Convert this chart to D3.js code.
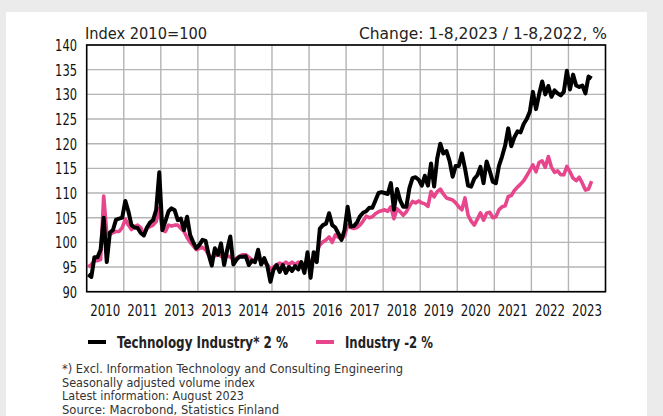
<!DOCTYPE html>
<html>
<head>
<meta charset="utf-8">
<script src="https://cdn.jsdelivr.net/npm/d3@7"></script>
<style>
html,body{margin:0;padding:0;background:#ebebeb;}
svg{display:block;}
</style>
</head>
<body>
<svg id="chart" width="663" height="416"></svg>
<script>
// ---- data (monthly, Jan 2010 – Aug 2023) ----
const yearLabels = ["2010","2011","2013","2013","2014","2015","2016","2017","2018","2019","2020","2021","2022","2023"];
const yTicks = [90,95,100,105,110,115,120,125,130,135,140];

const techIndustry = [
  // 2010
  93.5, 93, 97, 97, 98.5, 105, 96, 102, 102.5, 104.6, 104.8, 105,
  // 2011
  108.4, 106.3, 103.5, 103, 102.9, 101.9, 101.4, 103, 104, 104.5, 106.6, 114.2,
  // 2012
  102.5, 104.3, 106.3, 106.9, 106.5, 104.5, 104.8, 102.5, 105.2, 101.5, 100, 98.8,
  // 2013
  99.5, 100.5, 100.3, 97.5, 95.3, 98.8, 97.5, 99.8, 95.4, 98.5, 101.2, 95.5,
  // 2014
  96.5, 97.1, 97.1, 97.2, 95.4, 96.3, 96, 98.5, 95.5, 96.8, 95.2, 92,
  // 2015
  94.5, 95.4, 94, 95.4, 93.8, 95, 94.2, 95.2, 94.5, 96, 93.8, 98,
  // 2016
  92.8, 98, 96, 102.8, 103.5, 103.8, 105.9, 103.5, 103, 101.8, 100.5, 102.5,
  // 2017
  107.2, 103.2, 103.3, 104, 105.3, 106, 106.3, 107, 107, 108.5, 110, 110.2,
  // 2018
  110, 109.8, 112, 106.6, 110.8, 108.5, 107.2, 107.2, 111, 113, 113.2, 112.7,
  // 2019
  111.5, 113.5, 111.5, 116, 111.3, 117, 120, 118, 118.5, 116.5, 113.3, 115.5,
  // 2020
  115.5, 118, 115, 111.5, 111.3, 112.9, 113.6, 115.3, 112, 116.4, 114.5, 112.3,
  // 2021
  112, 115.5, 117.4, 119.6, 123.1, 119.5, 121.3, 122.5, 122.3, 124, 125, 126.5,
  // 2022
  130.5, 127, 130, 132.6, 130, 131.7, 129.5, 130.8, 130.2, 129.8, 130.5, 134.8,
  // 2023
  131, 134, 131.8, 131.5, 131.8, 130.2, 133.6, 133.2
];

const industry = [
  // 2010
  95, 95.5, 96.3, 96.3, 96.5, 109.4, 101.8, 101.6, 102, 102.2, 102.2, 103,
  // 2011
  104.7, 103.5, 102.6, 103.2, 103.5, 103, 101.5, 102.8, 103.2, 103.5, 104.2, 106.9,
  // 2012
  102.5, 102.2, 103.5, 103.3, 103.5, 103.5, 102.8, 102.2, 101, 100, 99.3, 98.5,
  // 2013
  98.8, 99, 98.5, 97.5, 97, 97.3, 97.5, 97.2, 97, 97.3, 97, 96.5,
  // 2014
  96.8, 97.2, 97.5, 97.5, 97, 96.5, 96.3, 96.8, 96.2, 96, 95.5, 94.5,
  // 2015
  95, 95.5, 95.8, 95.5, 96, 95.5, 96, 95.5, 96, 95.5, 95.6, 96.5,
  // 2016
  96, 97, 98, 99.5, 100.1, 100.5, 101.1, 100, 101.5, 101, 100.7, 101.3,
  // 2017
  103.5, 103, 102.8, 103, 103.5, 104.3, 105.3, 105, 105.2, 105.8, 106.2, 106.4,
  // 2018
  106.6, 106.3, 107.2, 104.8, 106.8, 106.2, 105.5, 106.2, 107.3, 108.3, 108, 108.4,
  // 2019
  108, 107.8, 107.3, 110.3, 109.2, 110.3, 110.8, 109.8, 109, 108.8, 108.6, 108,
  // 2020
  107.2, 106.6, 109, 105.5, 104.3, 103.5, 104.7, 106, 104.5, 105.9, 106.1, 105,
  // 2021
  105.2, 106.6, 107.2, 107.4, 109.3, 109.5, 110.5, 111.2, 111.8, 112.5, 113.5, 114.6,
  // 2022
  115.7, 114.3, 116.2, 116.5, 115.2, 117.4, 115.2, 114.2, 114.5, 113.7, 113.7, 115.4,
  // 2023
  114.3, 113, 112.5, 113.2, 112, 110.6, 110.8, 112.4
];

const titleLeft = "Index 2010=100";
const titleRight = "Change: 1-8,2023 / 1-8,2022, %";
const legendLabels = ["Technology Industry* 2 %", "Industry -2 %"];
const seriesColors = ["#000000", "#e8468c"];
const footnotes = [
  "*) Excl. Information Technology and Consulting Engineering",
  "Seasonally adjusted volume index",
  "Latest information: August 2023",
  "Source: Macrobond, Statistics Finland"
];

(function(){
const legendWidths = [171, 88];
const footWidths = [341, 193, 182, 217];

const svg = d3.select("#chart");
const narrow = "'Liberation Sans Narrow','DejaVu Sans Condensed','Roboto Condensed',sans-serif";

// background panel
svg.append("rect").attr("x",0).attr("y",0).attr("width",663).attr("height",416).attr("fill","#ebebeb");
svg.append("rect").attr("x",6).attr("y",12).attr("width",641).attr("height",410).attr("fill","#ffffff");

const pL = 86.7, pR = 605.5, pT = 45, pB = 291.7;
const nYears = yearLabels.length;
const x = d3.scaleLinear().domain([0, nYears*12]).range([pL, pR]);
const y = d3.scaleLinear().domain([90, 140]).range([pB, pT]);

// gridlines
const g = svg.append("g");
g.selectAll("line.h").data(yTicks).join("line")
  .attr("x1", pL).attr("x2", pR)
  .attr("y1", d => y(d)).attr("y2", d => y(d))
  .attr("stroke", "#b4b4b4").attr("stroke-width", 1.4);
g.selectAll("line.v").data(d3.range(1, nYears)).join("line")
  .attr("x1", d => x(d*12)).attr("x2", d => x(d*12))
  .attr("y1", pT).attr("y2", pB)
  .attr("stroke", "#b4b4b4").attr("stroke-width", 1.4);
g.append("line")
  .attr("x1", x((nYears-1)*12)).attr("x2", x((nYears-1)*12))
  .attr("y1", pT-7).attr("y2", pT)
  .attr("stroke", "#9a9a9a").attr("stroke-width", 1.2);

// series lines
const line = d3.line().x((d,i) => x(i + 0.5)).y(d => y(d));
svg.append("path").datum(industry).attr("d", line)
  .attr("fill","none").attr("stroke", seriesColors[1])
  .attr("stroke-width", 3.6).attr("stroke-linejoin","round");
svg.append("path").datum(techIndustry).attr("d", line)
  .attr("fill","none").attr("stroke", seriesColors[0])
  .attr("stroke-width", 4).attr("stroke-linejoin","round");

// frame
svg.append("rect").attr("x", pL).attr("y", pT)
  .attr("width", pR-pL).attr("height", pB-pT)
  .attr("fill","none").attr("stroke","#000").attr("stroke-width",1.6);

// y labels
svg.append("g").selectAll("text").data(yTicks).join("text")
  .attr("x", 77).attr("y", d => y(d) + 6)
  .attr("text-anchor","end")
  .attr("font-family", narrow)
  .attr("font-size", 16).attr("fill","#111")
  .attr("textLength", d => String(d).length * 7.3).attr("lengthAdjust","spacingAndGlyphs")
  .text(d => d);

// x labels
svg.append("g").selectAll("text").data(yearLabels).join("text")
  .attr("x", (d,i) => x(i*12 + 6)).attr("y", 316)
  .attr("text-anchor","middle")
  .attr("font-family", narrow).attr("font-size", 16).attr("fill","#111")
  .attr("textLength", 30).attr("lengthAdjust","spacingAndGlyphs")
  .text(d => d);

// titles
svg.append("text").attr("x", 85).attr("y", 39)
  .attr("font-family", narrow).attr("font-size", 16).attr("fill","#222")
  .attr("textLength", 122).attr("lengthAdjust","spacingAndGlyphs")
  .text(titleLeft);
svg.append("text").attr("x", 359).attr("y", 39)
  .attr("font-family", narrow).attr("font-size", 16).attr("fill","#222")
  .attr("textLength", 248).attr("lengthAdjust","spacingAndGlyphs")
  .text(titleRight);

// legend
const legX = [88, 316];
legendLabels.forEach((lab, i) => {
  svg.append("line").attr("x1", legX[i]).attr("x2", legX[i] + 18)
    .attr("y1", 342).attr("y2", 342)
    .attr("stroke", seriesColors[i]).attr("stroke-width", 4);
  svg.append("text").attr("x", legX[i] + 29).attr("y", 347.5)
    .attr("font-family", narrow).attr("font-weight","bold")
    .attr("font-size", 15).attr("fill","#222")
    .attr("textLength", legendWidths[i]).attr("lengthAdjust","spacingAndGlyphs")
    .text(lab);
});

// footnotes
svg.append("g").selectAll("text").data(footnotes).join("text")
  .attr("x", 62).attr("y", (d,i) => 373 + i*13.5)
  .attr("font-family", narrow).attr("font-size", 13).attr("fill","#333")
  .attr("textLength", (d,i) => footWidths[i]).attr("lengthAdjust","spacingAndGlyphs")
  .text(d => d);
})();
</script>
</body>
</html>
